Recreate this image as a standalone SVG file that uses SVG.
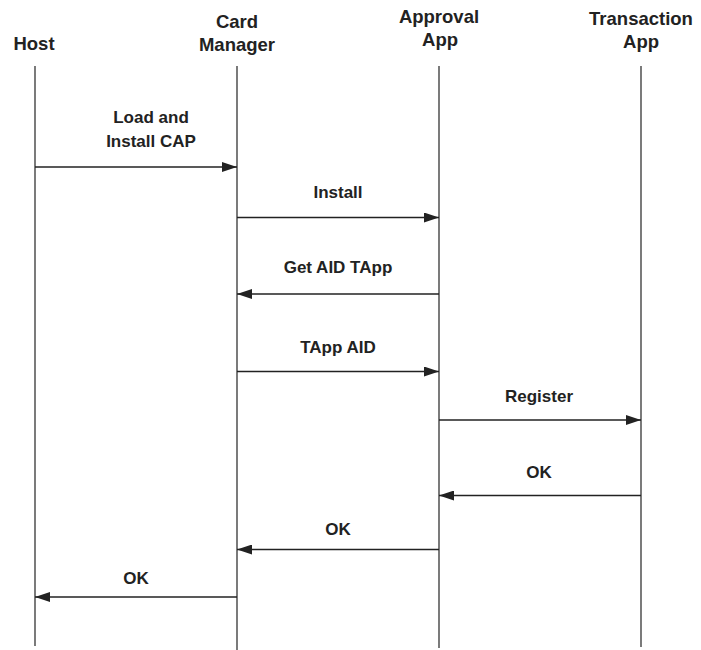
<svg xmlns="http://www.w3.org/2000/svg" width="701" height="650" viewBox="0 0 701 650">
<style>
text{font-family:"Liberation Sans",Arial,sans-serif;font-weight:bold;fill:#222;text-anchor:middle}
.hdr{font-size:18.5px}
.lbl{font-size:17px}
.life{stroke:#333;stroke-width:1.3;fill:none}
.msg{stroke:#222;stroke-width:1.4;fill:none;marker-end:url(#ah)}
</style>
<defs>
<marker id="ah" viewBox="0 0 15 10" refX="15" refY="5" markerWidth="15" markerHeight="10" markerUnits="userSpaceOnUse" orient="auto">
<path d="M0,0 L15,5 L0,10 z" fill="#222"/>
</marker>
</defs>
<rect width="701" height="650" fill="#fff"/>
<g id="host">
<text class="hdr" x="34" y="50">Host</text>
<line class="life" x1="35" y1="66" x2="35" y2="646"/>
</g>
<g id="card-manager">
<text class="hdr" x="237" y="28">Card</text>
<text class="hdr" x="237" y="51">Manager</text>
<line class="life" x1="237" y1="66" x2="237" y2="650"/>
</g>
<g id="approval-app">
<text class="hdr" x="439" y="23">Approval</text>
<text class="hdr" x="440" y="46">App</text>
<line class="life" x1="439" y1="66" x2="439" y2="648"/>
</g>
<g id="transaction-app">
<text class="hdr" x="641" y="25">Transaction</text>
<text class="hdr" x="641" y="48">App</text>
<line class="life" x1="641" y1="66" x2="641" y2="647"/>
</g>
<g id="connectors">
<line class="msg" x1="35" y1="167" x2="237" y2="167"/>
<line class="msg" x1="237" y1="217.5" x2="439" y2="217.5"/>
<line class="msg" x1="439" y1="294" x2="237" y2="294"/>
<line class="msg" x1="237" y1="371.5" x2="439" y2="371.5"/>
<line class="msg" x1="439" y1="420" x2="641" y2="420"/>
<line class="msg" x1="641" y1="495.5" x2="439" y2="495.5"/>
<line class="msg" x1="439" y1="549.5" x2="237" y2="549.5"/>
<line class="msg" x1="237" y1="597" x2="35" y2="597"/>
<text class="lbl" x="151" y="123">Load and</text>
<text class="lbl" x="151" y="147">Install CAP</text>
<text class="lbl" x="338" y="198">Install</text>
<text class="lbl" x="338" y="273">Get AID TApp</text>
<text class="lbl" x="338" y="353">TApp AID</text>
<text class="lbl" x="539" y="402">Register</text>
<text class="lbl" x="539" y="478">OK</text>
<text class="lbl" x="338" y="535">OK</text>
<text class="lbl" x="136" y="584">OK</text>
</g>
</svg>
